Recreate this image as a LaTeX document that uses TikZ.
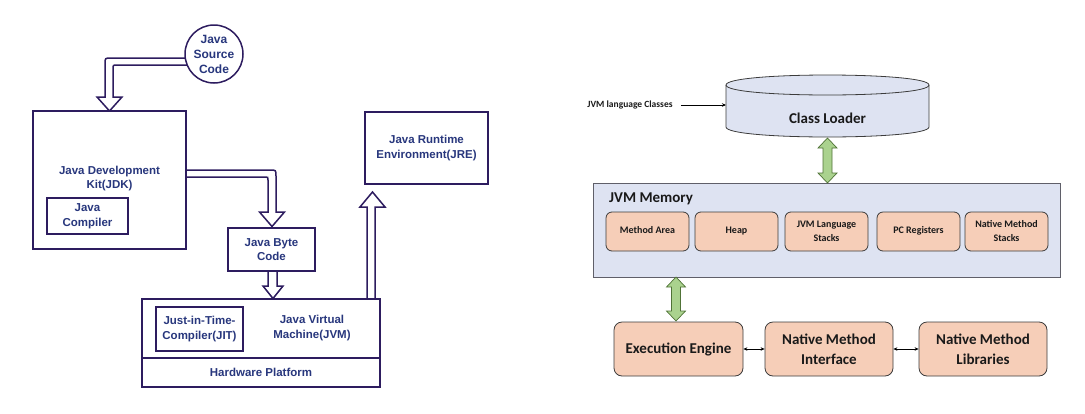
\documentclass[tikz,border=0pt]{standalone}
\usepackage{fontspec}
\setmainfont{Liberation Sans}
\newfontfamily\carlito{Carlito}
\usetikzlibrary{arrows.meta,calc}
\definecolor{lline}{RGB}{45,28,95}
\definecolor{ltext}{RGB}{40,55,125}
\definecolor{memfill}{RGB}{222,227,242}
\definecolor{memline}{RGB}{95,95,105}
\definecolor{peach}{RGB}{246,206,184}
\definecolor{gfill}{RGB}{170,210,142}
\definecolor{gline}{RGB}{80,115,55}
\definecolor{rline}{RGB}{60,60,60}
\definecolor{rtext}{RGB}{25,25,25}
\newcommand\DblGreen[3]{%
  \draw[garrow] ({#1},{#2}) -- ({#1+9.5},{#2+10}) -- ({#1+4.5},{#2+10}) -- ({#1+4.5},{#3-10}) -- ({#1+9.5},{#3-10}) -- ({#1},{#3}) -- ({#1-9.5},{#3-10}) -- ({#1-4.5},{#3-10}) -- ({#1-4.5},{#2+10}) -- ({#1-9.5},{#2+10}) -- cycle;}
\begin{document}
\begin{tikzpicture}[x=1pt,y=-1pt,
  lbox/.style={draw=lline,line width=1.5pt,fill=white,text=ltext,align=center,inner sep=0pt,
    font=\bfseries\fontsize{11.5}{14.5}\selectfont},
  ltxt/.style={text=ltext,align=center,inner sep=0pt,font=\bfseries\fontsize{11.5}{14.5}\selectfont},
  hollow/.style={draw=lline,line width=1.5pt,fill=white,line join=miter},
  subbox/.style={draw=rline,line width=0.8pt,fill=peach,rounded corners=6pt,minimum width=83pt,minimum height=39pt,
    align=center,inner sep=0pt,text=rtext,font=\carlito\bfseries\fontsize{10}{14}\selectfont},
  bigbox/.style={draw=rline,line width=0.8pt,fill=peach,rounded corners=8pt,minimum width=128pt,minimum height=54pt,
    align=center,inner sep=0pt,text=rtext,font=\carlito\bfseries\fontsize{15}{20}\selectfont},
  garrow/.style={draw=gline,line width=0.7pt,fill=gfill,line join=miter},
  small/.style={{Stealth[length=4pt,width=3.5pt]}-{Stealth[length=4pt,width=3.5pt]},line width=0.6pt,black}
]
\useasboundingbox (0,0) rectangle (1085,413);

% ---------------- left diagram: hollow arrows first ----------------
\draw[hollow] (200,58) -- (111,58) .. controls (105,58) .. (105,64) -- (105,97) -- (97,97) -- (109.5,111) -- (122,97) -- (113,97) -- (113,69) .. controls (113,65) .. (117,65) -- (200,65);
\draw[hollow] (180,170) -- (270,170) .. controls (276,170) .. (276,176) -- (276,212) -- (284.5,212) -- (272,226.5) -- (259.5,212) -- (268,212) -- (268,180) .. controls (268,177) .. (265,177) -- (180,177);
\draw[hollow] (268,266) -- (268,286) -- (263,286) -- (273,298.5) -- (283,286) -- (277,286) -- (277,266);
\draw[hollow] (367,304) -- (367,207) -- (360,207) -- (372.5,192) -- (385,207) -- (375,207) -- (375,304);

\node[lbox,circle,minimum size=58pt,font=\bfseries\fontsize{12}{15}\selectfont] (src) at (214,54) {Java\\Source\\Code};
\node[lbox,minimum width=153pt,minimum height=138pt] (jdk) at (109.5,180) {};
\node[ltxt] (jdktxt) at (109.5,178.5) {Java Development\\Kit(JDK)};
\node[lbox,minimum width=81pt,minimum height=36pt] (javac) at (87.5,216) {Java\\Compiler};
\node[lbox,minimum width=87pt,minimum height=43pt] (jbc) at (271.5,249.5) {Java Byte\\Code};
\node[lbox,minimum width=123pt,minimum height=72pt] (jre) at (426.5,148) {Java Runtime\\Environment(JRE)};
\node[lbox,minimum width=238pt,minimum height=88pt] (plat) at (261,343) {};
\coordinate (divl) at (142,358);
\coordinate (divr) at (380,358);
\draw[draw=lline,line width=1.5pt] (divl) -- (divr);
\node[lbox,minimum width=87pt,minimum height=44pt] (jit) at (199.5,329) {Just-in-Time-\\Compiler(JIT)};
\node[ltxt] (jvm) at (312,328) {Java Virtual\\Machine(JVM)};
\node[ltxt] (hw) at (261,372.5) {Hardware Platform};

% ---------------- right diagram ----------------
\node[inner sep=0pt,text=rtext,font=\carlito\bfseries\fontsize{9.5}{11}\selectfont] (jvmlc) at (630,105) {JVM language Classes};
\coordinate (clw) at (726,105);
\draw[-{Stealth[length=4pt,width=3.5pt]},line width=0.6pt,black] ($(jvmlc.east)+(8,0)$) -- (clw);

\fill[memfill] (726,85) -- (726,127) .. controls (726,140.33) and (929,140.33) .. (929,127) -- (929,85) .. controls (929,71.67) and (726,71.67) .. cycle;
\draw[rline,line width=0.8pt] (726,85) -- (726,127) .. controls (726,140.33) and (929,140.33) .. (929,127) -- (929,85);
\draw[rline,line width=0.8pt] (726,85) .. controls (726,71.67) and (929,71.67) .. (929,85) .. controls (929,98.33) and (726,98.33) .. (726,85);
\node[inner sep=0pt,text=rtext,font=\carlito\bfseries\fontsize{15}{18}\selectfont] (cl) at (827.5,118) {Class Loader};

\node[draw=memline,line width=0.8pt,fill=memfill,minimum width=467pt,minimum height=94pt,inner sep=0pt] (mem) at (826.5,230) {};
\node[anchor=west,inner sep=0pt,text=rtext,font=\carlito\bfseries\fontsize{15}{18}\selectfont] (memlbl) at (609,198.5) {JVM Memory};

\node[subbox] (ma) at (647.5,231.5) {\raisebox{3pt}{Method Area}};
\node[subbox] (heap) at (736.5,231.5) {\raisebox{3pt}{Heap}};
\node[subbox] (jls) at (826.5,231.5) {JVM Language\\Stacks};
\node[subbox] (pc) at (918.5,231.5) {\raisebox{3pt}{PC Registers}};
\node[subbox] (nms) at (1006.5,231.5) {Native Method\\Stacks};

\node[bigbox,minimum width=129pt] (ee) at (678.5,349) {Execution Engine};
\node[bigbox] (nmi) at (829,349) {Native Method\\Interface};
\node[bigbox] (nml) at (983,349) {Native Method\\Libraries};

\DblGreen{827.5}{138}{183}
\DblGreen{676}{277}{321}

\draw[small] (ee.east) -- (nmi.west);
\draw[small] (nmi.east) -- (nml.west);
\end{tikzpicture}
\end{document}
